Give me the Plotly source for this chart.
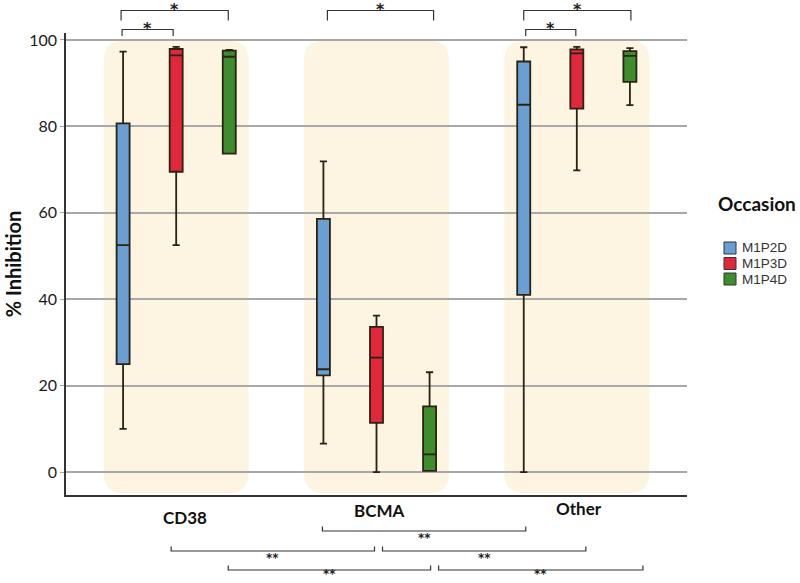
import plotly.graph_objects as go

# ---------------- data ----------------
categories = ["CD38", "BCMA", "Other"]
occasions = ["M1P2D", "M1P3D", "M1P4D"]
colors = ["#6A9FD4", "#E1283A", "#3E8C2B"]

lower_m1p2d = [10.0, 6.6, 0.0]
q1_m1p2d = [25.0, 22.4, 41.0]
median_m1p2d = [52.5, 23.8, 85.0]
q3_m1p2d = [80.7, 58.6, 95.0]
upper_m1p2d = [97.3, 71.9, 98.3]

lower_m1p3d = [52.5, 0.0, 69.8]
q1_m1p3d = [69.5, 11.4, 84.1]
median_m1p3d = [96.4, 26.5, 96.9]
q3_m1p3d = [97.9, 33.6, 97.8]
upper_m1p3d = [98.4, 36.2, 98.4]

lower_m1p4d = [73.7, 0.3, 84.9]
q1_m1p4d = [73.7, 0.3, 90.3]
median_m1p4d = [96.1, 4.1, 96.3]
q3_m1p4d = [97.5, 15.2, 97.4]
upper_m1p4d = [97.7, 23.1, 98.1]

y_ticks = [0, 20, 40, 60, 80, 100]
y_title = "% Inhibition"
legend_title = "Occasion"

# significance brackets: (start, end in category units, label, level)
top_brackets = [(-0.27, -0.015, "*", 0), (-0.275, 0.26, "*", 1),
                (0.755, 1.285, "*", 1), (1.735, 2.27, "*", 1), (1.745, 1.995, "*", 0)]
bottom_brackets = [(0.73, 1.745, "**", 0), (-0.025, 0.99, "**", 1), (1.03, 2.045, "**", 1),
                   (0.26, 1.27, "**", 2), (1.31, 2.33, "**", 2)]

series = [
    (lower_m1p2d, q1_m1p2d, median_m1p2d, q3_m1p2d, upper_m1p2d),
    (lower_m1p3d, q1_m1p3d, median_m1p3d, q3_m1p3d, upper_m1p3d),
    (lower_m1p4d, q1_m1p4d, median_m1p4d, q3_m1p4d, upper_m1p4d),
]

# ---------------- layout geometry ----------------
W, H = 800, 583
ML, MR, MT, MB = 66, 113, 33, 88
PW, PH = W - ML - MR, H - MT - MB
Y_RANGE = [-5.3, 101.6]
X_RANGE = [-0.55, 2.55]


def py2paper(py):
    return (H - MB - py) / PH


def px2paper(px):
    return (px - ML) / PW


fig = go.Figure()

for name, col, (lo, q1, med, q3, up) in zip(occasions, colors, series):
    fig.add_trace(go.Box(
        x=categories, lowerfence=lo, q1=q1, median=med, q3=q3, upperfence=up,
        name=name, fillcolor=col, line=dict(color="#2B2214", width=1.8),
        whiskerwidth=0.55, boxpoints=False, showlegend=False, hoverinfo="skip",
    ))

shapes = []
# cream rounded panels behind each category
half_w, rx, ry = 0.362, 0.1, 4.6
y_top, y_bot = 99.8, -4.85
for i, _ in enumerate(categories):
    x0, x1 = i - half_w, i + half_w
    path = (f"M{x0+rx},{y_top} L{x1-rx},{y_top} Q{x1},{y_top} {x1},{y_top-ry} "
            f"L{x1},{y_bot+ry} Q{x1},{y_bot} {x1-rx},{y_bot} L{x0+rx},{y_bot} "
            f"Q{x0},{y_bot} {x0},{y_bot+ry} L{x0},{y_top-ry} Q{x0},{y_top} {x0+rx},{y_top} Z")
    shapes.append(dict(type="path", path=path, xref="x", yref="y", layer="below",
                       fillcolor="#FEF4E2", line=dict(width=0)))

annotations = []
br_col = "#333333"
top_levels = {0: (29.5, 36.0), 1: (10.5, 20.5)}
for x0, x1, lab, lvl in top_brackets:
    ly, leg = top_levels[lvl]
    yl, yg = py2paper(ly), py2paper(leg)
    path = f"M{x0},{yg} L{x0},{yl} L{x1},{yl} L{x1},{yg}"
    shapes.append(dict(type="path", path=path, xref="x", yref="paper",
                       line=dict(color=br_col, width=1.2)))
    annotations.append(dict(x=(x0 + x1) / 2, y=yl, xref="x", yref="paper", text=f"<b>{lab}</b>",
                            showarrow=False, yanchor="bottom", yshift=-10,
                            font=dict(family="DejaVu Sans", size=16, color="#222")))

bottom_levels = {0: 531, 1: 551, 2: 570}
for x0, x1, lab, lvl in bottom_brackets:
    ly = bottom_levels[lvl]
    yl, yg = py2paper(ly), py2paper(ly - 4.5)
    path = f"M{x0},{yg} L{x0},{yl} L{x1},{yl} L{x1},{yg}"
    shapes.append(dict(type="path", path=path, xref="x", yref="paper",
                       line=dict(color=br_col, width=1.2)))
    star_center = min(ly + 6.5, H - 9.5)
    annotations.append(dict(x=(x0 + x1) / 2, y=py2paper(star_center), xref="x", yref="paper",
                            text=f"<b>{lab}</b>", showarrow=False, yanchor="middle", borderpad=0,
                            font=dict(family="DejaVu Sans", size=12, color="#222")))

# category labels
cat_label_pos = [(0.045, 517), (1.015, 511), (2.01, 508)]
for cat, (xc, py) in zip(categories, cat_label_pos):
    annotations.append(dict(x=xc, y=py2paper(py), xref="x", yref="paper", text=f"<b>{cat}</b>",
                            showarrow=False, yanchor="middle", xanchor="center",
                            font=dict(family="Lato", size=17, color="#111")))

# manual legend
annotations.append(dict(x=px2paper(757), y=py2paper(203), xref="paper", yref="paper",
                        text=f"<b>{legend_title}</b>", showarrow=False, yanchor="middle",
                        xanchor="center",
                        font=dict(family="Lato", size=19, color="#111")))
for k, (name, col) in enumerate(zip(occasions, colors)):
    cy = 248 + 15.5 * k
    shapes.append(dict(type="rect", xref="paper", yref="paper",
                       x0=px2paper(724), x1=px2paper(736), y0=py2paper(cy + 6), y1=py2paper(cy - 6),
                       fillcolor=col, line=dict(color="#333", width=1)))
    annotations.append(dict(x=px2paper(741), y=py2paper(cy), xref="paper", yref="paper",
                            text=name, showarrow=False, xanchor="left", yanchor="middle",
                            borderpad=0,
                            font=dict(family="Liberation Sans", size=13.5, color="#333")))

fig.update_layout(
    width=W, height=H, margin=dict(l=ML, r=MR, t=MT, b=MB, autoexpand=False),
    paper_bgcolor="white", plot_bgcolor="white",
    boxmode="group", boxgap=0.205, boxgroupgap=0.755,
    shapes=shapes, annotations=annotations, showlegend=False,
    xaxis=dict(type="category", categoryarray=categories, range=X_RANGE,
               showticklabels=False, showgrid=False, zeroline=False, automargin=False,
               showline=True, linecolor="#333", linewidth=2, ticks=""),
    yaxis=dict(range=Y_RANGE, tickvals=y_ticks, showgrid=True, gridcolor="#A8A8A8",
               gridwidth=1.5, zeroline=False, showline=True, linecolor="#333", linewidth=1.5,
               ticks="outside", ticklen=4, tickcolor="#A8A8A8", automargin=False,
               tickfont=dict(family="Lato", size=16, color="#1a1a1a"),
               title=dict(text=f"<b>{y_title}</b>", standoff=2,
                          font=dict(family="Lato", size=20, color="#111"))),
)

fig.write_html("out.html", config={"displayModeBar": False},
               post_script="document.body.style.margin='0';")
